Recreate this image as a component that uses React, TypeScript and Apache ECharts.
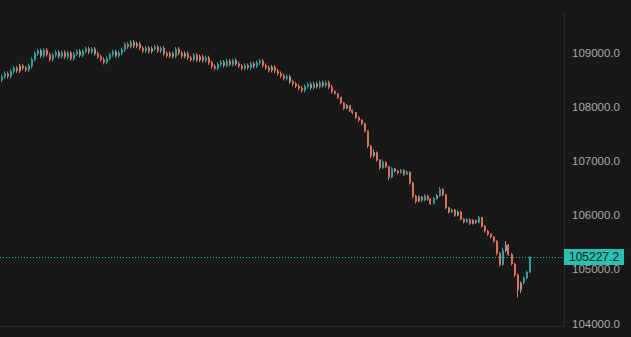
import React, { useEffect, useRef } from "react";
import * as echarts from "echarts";

// [open, close, lowest, highest]
const ohlcData: number[][] = [
  [108500,108560,108460,108600],[108560,108620,108520,108660],[108620,108570,108530,108660],[108570,108660,108530,108700],
  [108660,108720,108620,108760],[108720,108670,108630,108760],[108670,108760,108630,108800],[108760,108720,108680,108800],
  [108720,108690,108650,108760],[108690,108760,108650,108800],[108760,108880,108720,108920],[108880,108990,108840,109030],
  [108990,109040,108950,109080],[109040,108950,108910,109080],[108950,109050,108910,109090],[109050,108970,108930,109090],
  [108970,108880,108840,109010],[108880,108960,108840,109000],[108960,109010,108920,109050],[109010,108940,108900,109050],
  [108940,109010,108900,109050],[109010,108930,108890,109050],[108930,109000,108890,109040],[109000,108900,108860,109040],
  [108900,108980,108860,109020],[108980,109030,108940,109070],[109030,108960,108920,109070],[108960,109030,108920,109070],
  [109030,109080,108990,109120],[109080,109020,108980,109120],[109020,109070,108980,109110],[109070,108990,108950,109110],
  [108990,108930,108890,109030],[108930,108880,108840,108970],[108880,108830,108790,108920],[108830,108900,108790,108940],
  [108900,108970,108860,109010],[108970,109020,108930,109060],[109020,108950,108910,109060],[108950,109000,108910,109040],
  [109000,109060,108960,109100],[109060,109160,109020,109200],[109160,109120,109080,109200],[109120,109200,109080,109240],
  [109200,109130,109090,109240],[109130,109170,109090,109210],[109170,109090,109050,109210],[109090,109040,109000,109130],
  [109040,109090,109000,109130],[109090,109030,108990,109130],[109030,109080,108990,109120],[109080,109110,109040,109150],
  [109110,109040,109000,109150],[109040,109090,109000,109130],[109090,108990,108950,109130],[108990,108950,108910,109030],
  [108950,108990,108910,109030],[108990,108940,108900,109030],[108940,109070,108900,109110],[109070,109000,108960,109110],
  [109000,108940,108900,109040],[108940,108990,108900,109030],[108990,108910,108870,109030],[108910,108880,108840,108950],
  [108880,108960,108840,109000],[108960,108870,108830,109000],[108870,108930,108830,108970],[108930,108860,108820,108970],
  [108860,108910,108820,108950],[108910,108820,108780,108950],[108820,108750,108710,108860],[108750,108720,108680,108790],
  [108720,108790,108680,108830],[108790,108830,108750,108870],[108830,108770,108730,108870],[108770,108850,108730,108890],
  [108850,108790,108750,108890],[108790,108860,108750,108900],[108860,108800,108760,108900],[108800,108760,108720,108840],
  [108760,108720,108680,108800],[108720,108770,108680,108810],[108770,108730,108690,108810],[108730,108800,108690,108840],
  [108800,108760,108720,108840],[108760,108820,108720,108860],[108820,108850,108780,108890],[108850,108770,108730,108890],
  [108770,108730,108690,108810],[108730,108680,108640,108770],[108680,108740,108640,108780],[108740,108670,108630,108780],
  [108670,108620,108580,108710],[108620,108580,108540,108660],[108580,108530,108490,108620],[108530,108560,108490,108600],
  [108560,108470,108430,108600],[108470,108430,108390,108510],[108430,108390,108350,108470],[108390,108350,108310,108430],
  [108350,108310,108270,108390],[108310,108380,108270,108420],[108380,108420,108340,108460],[108420,108360,108320,108460],
  [108360,108430,108320,108470],[108430,108380,108340,108470],[108380,108450,108340,108490],[108450,108400,108360,108490],
  [108400,108450,108360,108490],[108450,108370,108330,108490],[108370,108290,108250,108410],[108290,108250,108230,108310],
  [108250,108180,108150,108260],[108180,108080,108050,108190],[108080,107980,107950,108090],[107980,108030,107960,108060],
  [108030,107940,107910,108040],[107940,107900,107870,107960],[107900,107810,107780,107910],[107810,107760,107730,107830],
  [107760,107700,107660,107780],[107700,107560,107530,107710],[107560,107280,107240,107570],[107280,107100,107060,107300],
  [107100,107160,107070,107220],[107160,107020,106990,107180],[107020,106880,106840,107040],[106880,106980,106860,107030],
  [106980,106900,106870,107000],[106900,106700,106650,106920],[106700,106860,106680,106890],[106860,106820,106790,106880],
  [106820,106790,106760,106840],[106790,106830,106770,106860],[106830,106760,106730,106850],[106760,106800,106740,106830],
  [106800,106600,106570,106810],[106600,106350,106310,106620],[106350,106260,106220,106380],[106260,106340,106240,106370],
  [106340,106280,106250,106360],[106280,106360,106260,106390],[106360,106300,106270,106380],[106300,106220,106190,106320],
  [106220,106310,106200,106340],[106310,106360,106290,106390],[106360,106480,106340,106520],[106480,106380,106350,106500],
  [106380,106140,106110,106400],[106140,106060,106030,106160],[106060,106100,106040,106130],[106100,106000,105970,106120],
  [106000,106060,105980,106090],[106060,105930,105900,106080],[105930,105880,105850,105950],[105880,105920,105860,105950],
  [105920,105850,105820,105940],[105850,105900,105830,105930],[105900,105870,105840,105920],[105870,105960,105850,105990],
  [105960,105800,105770,105970],[105800,105710,105680,105820],[105710,105650,105620,105730],[105650,105600,105570,105670],
  [105600,105520,105490,105620],[105520,105300,105260,105540],[105300,105090,105050,105320],[105090,105350,105070,105400],
  [105350,105450,105320,105520],[105450,105280,105250,105470],[105280,105100,105070,105300],[105100,104900,104860,105120],
  [104900,104620,104480,104920],[104620,104750,104560,104780],[104750,104840,104720,104870],[104840,104950,104820,104980],
  [104950,105227.2,104930,105240],
];

// candles drawn in a neutral grey in the reference
const neutralIdx: number[] = [6, 13, 19, 26, 31, 38, 45, 50, 56, 61, 66, 74, 78, 84, 90, 96, 103, 107, 115, 124, 131, 139, 145, 152, 157, 168, 173];

const emptySlots = 11;
const categories: string[] = Array.from({ length: ohlcData.length + emptySlots }, (_, i) => String(i + 1));

const yTicks: number[] = [104000, 105000, 106000, 107000, 108000, 109000];
const lastPrice = 105227.2;

const UP = "#26a69a";
const DOWN = "#e0705c";
const GREY = "#9a9a9a";

export default function App() {
  const ref = useRef<HTMLDivElement>(null);
  useEffect(() => {
    document.body.style.margin = "0";
    document.body.style.background = "#181818";
    if (!ref.current) return;
    const chart = echarts.init(ref.current, null, { renderer: "svg" });
    const seriesData = ohlcData.map((d, i) =>
      neutralIdx.includes(i)
        ? { value: d, itemStyle: { color: GREY, color0: GREY, borderColor: GREY, borderColor0: GREY } }
        : { value: d }
    );
    chart.setOption({
      animation: false,
      backgroundColor: "#181818",
      grid: { left: 0, right: 67, top: 12, bottom: 11 },
      xAxis: {
        type: "category",
        data: categories,
        boundaryGap: true,
        axisLine: { show: true, lineStyle: { color: "#2c2c2c", width: 1 } },
        axisTick: { show: false },
        axisLabel: { show: false },
        splitLine: { show: false },
      },
      yAxis: {
        type: "value",
        position: "right",
        min: 103954,
        max: 109758,
        axisLine: { show: true, lineStyle: { color: "#2c2c2c" } },
        axisTick: { show: false },
        splitLine: { show: false },
        axisLabel: {
          customValues: yTicks,
          margin: 8,
          color: "#a8a8a8",
          fontSize: 11.5,
          fontFamily: "Liberation Sans, Arial, sans-serif",
          formatter: (v: number) => v.toFixed(1),
        },
      },
      series: [
        {
          type: "candlestick",
          data: seriesData,
          barWidth: 1.5,
          itemStyle: {
            color: UP,
            color0: DOWN,
            borderColor: UP,
            borderColor0: DOWN,
            borderWidth: 1,
          },
          markLine: {
            symbol: "none",
            silent: true,
            lineStyle: { color: "#2ab8aa", type: [1, 2], width: 1, opacity: 1 },
            label: {
              show: true,
              position: "end",
              distance: 0,
              formatter: lastPrice.toFixed(1),
              backgroundColor: "#22c3b3",
              color: "#111111",
              fontSize: 12,
              fontFamily: "Liberation Sans, Arial, sans-serif",
              padding: [2, 5, 2, 5],
            },
            data: [{ yAxis: lastPrice }],
          },
        },
      ],
    });
    return () => chart.dispose();
  }, []);
  return <div ref={ref} style={{ width: 631, height: 337 }} />;
}
